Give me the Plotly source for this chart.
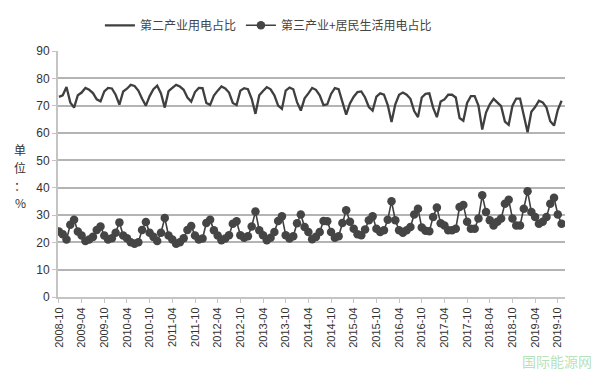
import plotly.graph_objects as go

# Month labels every 6 months (category ticks)
tick_labels = ["2008-10", "2009-04", "2009-10", "2010-04", "2010-10", "2011-04", "2011-10",
               "2012-04", "2012-10", "2013-04", "2013-10", "2014-04", "2014-10", "2015-04",
               "2015-10", "2016-04", "2016-10", "2017-04", "2017-10", "2018-04", "2018-10",
               "2019-04", "2019-10"]

# 第三产业+居民生活用电占比 (%), monthly 2008-10 .. 2019-11
tertiary = [
    24.0, 23.0, 21.0, 26.4, 28.3, 24.0, 22.5, 20.5, 21.0, 22.0, 24.5, 25.8,   # 2008-10..2009-09
    22.5, 21.0, 21.5, 23.5, 27.3, 22.5, 21.5, 20.0, 19.5, 20.0, 24.5, 27.4,   # 2009-10..2010-09
    23.5, 22.0, 20.5, 23.5, 28.9, 22.5, 21.0, 19.5, 20.0, 21.5, 24.5, 26.0,   # 2010-10..2011-09
    22.5, 21.0, 21.4, 27.1, 28.3, 24.4, 22.5, 20.8, 21.4, 22.6, 26.8, 27.7,   # 2011-10..2012-09
    22.6, 21.7, 22.2, 25.8, 31.3, 24.4, 22.6, 20.8, 21.7, 23.8, 27.8, 29.5,   # 2012-10..2013-09
    22.6, 21.4, 22.2, 27.0, 30.2, 25.6, 23.8, 21.1, 22.0, 23.8, 27.8, 27.7,   # 2013-10..2014-09
    23.8, 21.7, 22.2, 27.1, 31.7, 27.5, 25.0, 23.0, 22.6, 24.7, 28.1, 29.5,   # 2014-10..2015-09
    25.0, 23.8, 24.4, 28.3, 35.0, 28.1, 24.4, 23.5, 24.4, 25.6, 30.2, 32.3,   # 2015-10..2016-09
    25.4, 24.2, 24.1, 29.3, 32.7, 27.0, 26.2, 24.4, 24.4, 25.0, 32.9, 33.7,   # 2016-10..2017-09
    27.5, 25.0, 25.0, 28.7, 37.2, 31.1, 28.1, 26.2, 27.5, 28.7, 34.1, 35.6,   # 2017-10..2018-09
    28.7, 26.2, 26.2, 32.3, 38.7, 31.1, 29.3, 26.8, 27.5, 29.3, 34.1, 36.3,   # 2018-10..2019-09
    30.2, 26.8                                                                # 2019-10..2019-11
]

# 第二产业用电占比 (%), monthly 2008-10 .. 2019-11
secondary = [
    73.2, 73.8, 76.8, 71.2, 69.3, 73.8, 74.8, 76.5, 75.8, 74.6, 72.3, 71.6,
    75.2, 76.5, 76.3, 74.0, 70.4, 75.2, 76.2, 77.6, 77.2, 75.5, 72.5, 70.0,
    73.5, 76.0, 77.3, 74.5, 69.3, 75.3, 76.5, 77.6, 77.0, 75.8, 73.0, 71.5,
    75.0, 76.5, 76.4, 71.0, 70.3, 73.7, 75.5, 77.0, 76.3, 74.8, 71.0, 70.2,
    75.5, 76.4, 76.0, 72.5, 67.0, 73.8, 75.4, 76.8, 76.0, 73.8, 70.0, 68.8,
    75.5, 76.6, 76.0, 71.3, 68.2, 72.7, 74.5, 76.5, 75.8, 73.8, 70.2, 70.5,
    74.3, 76.4, 76.0, 71.2, 66.7, 70.8, 73.3, 75.0, 75.2, 73.0, 69.5, 68.2,
    73.3, 74.5, 74.0, 70.2, 64.0, 70.5, 74.0, 74.8, 74.0, 72.5, 68.0, 65.8,
    73.0, 74.3, 74.5, 69.3, 65.8, 71.5, 72.3, 74.0, 74.0, 73.0, 65.5, 64.5,
    71.0, 73.5, 73.5, 70.0, 61.3, 67.5, 70.5, 72.5, 71.2, 69.8, 64.2, 63.0,
    70.0, 72.6, 72.6, 66.5, 60.3, 67.8, 69.5, 71.8, 71.2, 69.3, 64.3, 62.7,
    68.5, 71.8
]

y_label_chars = ["单", "位", "：", "%"]

x_idx = list(range(len(secondary)))
tick_idx = [i * 6 for i in range(len(tick_labels))]

line_color = "#3f3f3f"
grid_color = "#b4b4b4"
font_cjk = "Noto Sans CJK SC"

fig = go.Figure()
fig.add_trace(go.Scatter(
    x=x_idx, y=secondary, mode="lines", name="第二产业用电占比",
    line=dict(color=line_color, width=2.3),
))
fig.add_trace(go.Scatter(
    x=x_idx, y=tertiary, mode="lines+markers", name="第三产业+居民生活用电占比",
    line=dict(color=line_color, width=1.6),
    marker=dict(color="#454545", size=8.5, line=dict(width=0)),
))

fig.update_layout(
    width=600, height=372,
    margin=dict(l=58, r=35, t=50, b=75),
    paper_bgcolor="white", plot_bgcolor="white",
    font=dict(family=font_cjk, color="#333333", size=12),
    showlegend=True,
    legend=dict(orientation="h", x=0.415, xanchor="center", y=1.1, yanchor="middle",
                font=dict(size=12, color="#444444", family=font_cjk),
                bgcolor="rgba(0,0,0,0)", itemwidth=30, tracegroupgap=0),
    xaxis=dict(
        range=[-0.25, 133.9], tickmode="array", tickvals=tick_idx, ticktext=tick_labels,
        tickangle=-90, tickfont=dict(size=11, color="#333333", family="Liberation Sans"),
        showgrid=False, zeroline=False,
        showline=True, linecolor="#c4c4c4", linewidth=2,
        ticks="outside", ticklen=4, tickcolor="#c4c4c4", tickwidth=1,
    ),
    yaxis=dict(
        range=[0, 90], tickmode="array", tickvals=list(range(0, 91, 10)),
        tickfont=dict(size=12, color="#333333", family="Liberation Sans"),
        showgrid=True, gridcolor=grid_color, gridwidth=1.5, zeroline=False,
        showline=True, linecolor="#c4c4c4", linewidth=2,
        ticks="outside", ticklen=4, tickcolor="#c4c4c4",
    ),
)

# stacked vertical y-axis label, one character per line
label_y_px = [149, 167, 185, 202]
for ch, py in zip(y_label_chars, label_y_px):
    fig.add_annotation(
        text=ch, xref="paper", yref="paper",
        x=(20 - 58) / 507, y=(297 - py) / 247, xanchor="center", yanchor="middle",
        showarrow=False, font=dict(size=12, color="#333333", family=font_cjk),
        borderpad=0,
    )

fig.add_annotation(
    text="国际能源网", xref="paper", yref="paper",
    x=(594 - 58) / 507, y=-0.26, xanchor="right", yanchor="middle", showarrow=False,
    font=dict(size=14, color="rgba(120,200,120,0.55)", family=font_cjk),
)

fig.write_html("out.html")
